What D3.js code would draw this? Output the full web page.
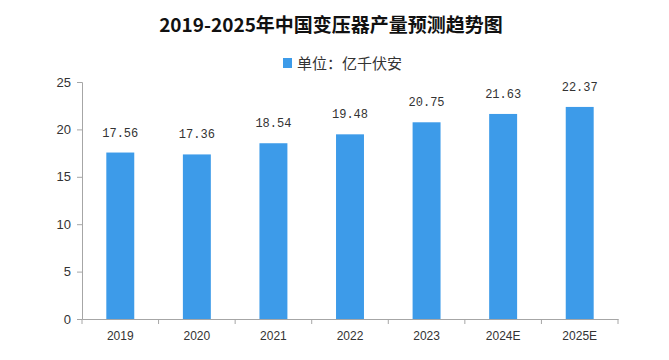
<!DOCTYPE html>
<html><head><meta charset="utf-8">
<script src="https://cdn.jsdelivr.net/npm/d3@7/dist/d3.min.js"></script>
<style>
html,body{margin:0;padding:0;background:#fff;}
svg{display:block;}
</style></head>
<body>
<svg id="chart" width="669" height="360"></svg>
<script>
const categories = ["2019","2020","2021","2022","2023","2024E","2025E"];
const values = [17.56,17.36,18.54,19.48,20.75,21.63,22.37];
const yTicks = [0,5,10,15,20,25];
const title = "2019-2025年中国变压器产量预测趋势图";
const legendLabel = "单位：亿千伏安";

const svg = d3.select("#chart");
const margin = {left:82, right:51, top:82, bottom:41};
const W = 669, H = 360;
const x = d3.scaleBand().domain(categories).range([margin.left, W - margin.right]).paddingInner(0.635).paddingOuter(0.3175);
const y = d3.scaleLinear().domain([0,25]).range([H - margin.bottom, margin.top]);
const barColor = "#3d9be9";
const axisColor = "#a6a6a6";
const cjk = "'Noto Sans CJK SC','Noto Sans',sans-serif";

// title
svg.append("text").attr("x", 331).attr("y", 32).attr("text-anchor","middle")
  .attr("font-family", cjk).attr("font-weight","bold").attr("font-size","19px").attr("fill","#111")
  .text(title);

// legend
svg.append("rect").attr("x",283).attr("y",58).attr("width",9).attr("height",10).attr("fill",barColor);
svg.append("text").attr("x",297).attr("y",69).attr("font-family",cjk).attr("font-size","15px").attr("fill","#333")
  .text(legendLabel);

// y axis
const yAxis = d3.axisLeft(y).tickValues(yTicks).tickSize(5).tickPadding(6);
const gy = svg.append("g").attr("transform",`translate(${margin.left},0)`).call(yAxis);
gy.select(".domain").attr("stroke",axisColor);
gy.selectAll(".tick line").attr("stroke",axisColor);
gy.selectAll(".tick text").attr("font-family","'Liberation Sans',sans-serif").attr("font-size","13px").attr("fill","#333");

// x axis
const xAxis = d3.axisBottom(x).tickSize(0).tickPadding(12);
const gx = svg.append("g").attr("transform",`translate(0,${y(0)})`).call(xAxis);
gx.select(".domain").attr("stroke",axisColor);
gx.selectAll(".tick text").attr("font-family","'Liberation Sans',sans-serif").attr("font-size","12px").attr("fill","#333");
// separators between bands
const step = x.step();
const seps = d3.range(categories.length + 1).map(i => margin.left + i * (W - margin.left - margin.right) / categories.length);
gx.selectAll("line.sep").data(seps).enter().append("line").attr("class","sep")
  .attr("x1",d=>d).attr("x2",d=>d).attr("y1",0).attr("y2",5).attr("stroke",axisColor);

// bars
svg.append("g").selectAll("rect").data(values).enter().append("rect")
  .attr("x",(d,i)=>x(categories[i])).attr("width",x.bandwidth())
  .attr("y",d=>y(d)).attr("height",d=>y(0)-y(d)).attr("fill",barColor);

// labels
svg.append("g").selectAll("text").data(values).enter().append("text")
  .attr("x",(d,i)=>x(categories[i]) + x.bandwidth()/2).attr("y",d=>y(d)-16)
  .attr("text-anchor","middle").attr("font-family","'Liberation Mono',monospace").attr("font-size","12px").attr("fill","#333")
  .text(d=>d.toFixed(2));
</script>
</body></html>
